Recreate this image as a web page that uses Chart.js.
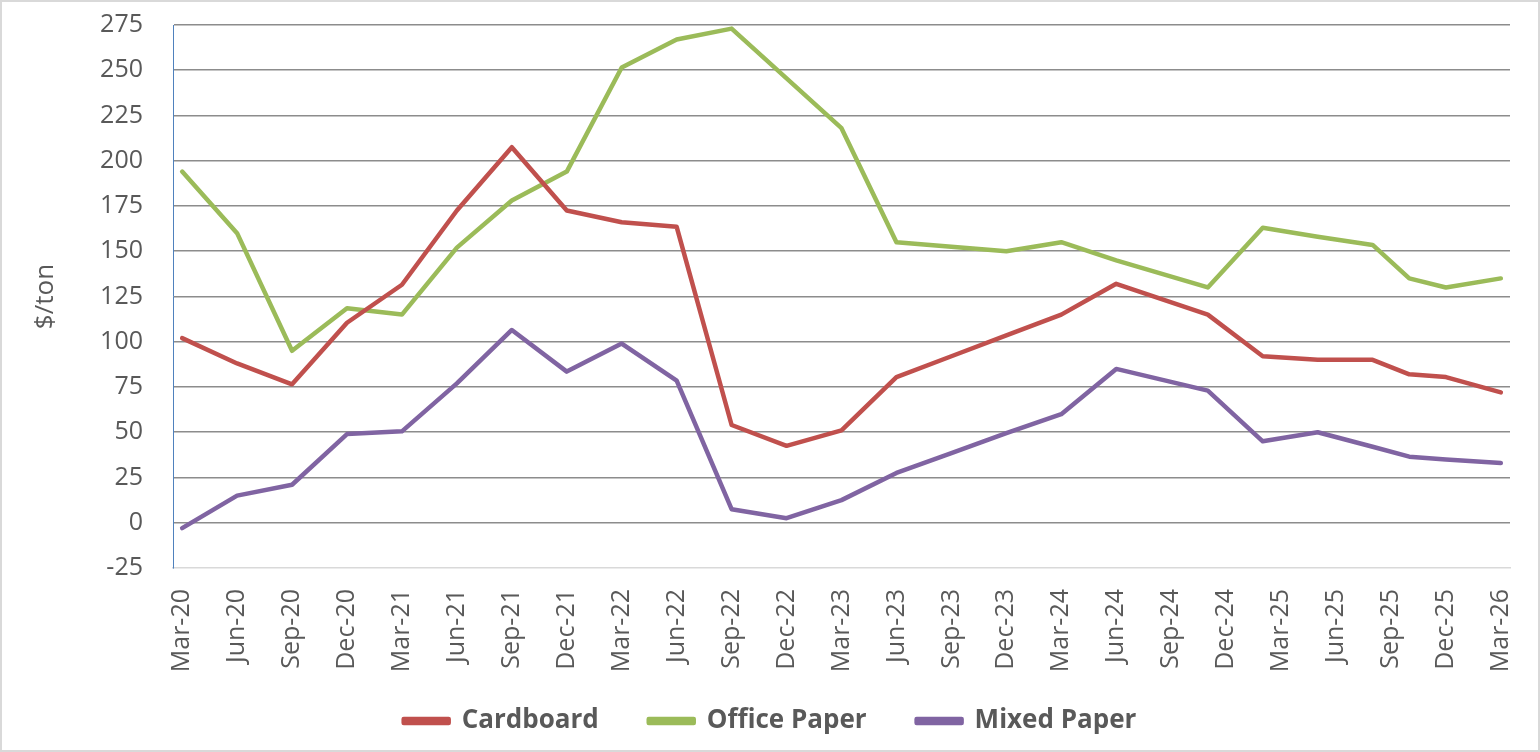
<!DOCTYPE html>
<html>
<head>
<meta charset="utf-8">
<title>Recycled paper prices</title>
<script src="https://cdn.jsdelivr.net/npm/chart.js@4"></script>
<style>
    html, body { margin: 0; padding: 0; background: #fff; }
    #wrap { position: relative; width: 1540px; height: 752px; }
</style>
</head>
<body>
<div id="wrap"><canvas id="priceChart"></canvas></div>
<script>
// Observation dates (year-month); the axis is a monthly date axis
const dates = [
    '2020-03', '2020-06', '2020-09', '2020-12',
    '2021-03', '2021-06', '2021-09', '2021-12',
    '2022-03', '2022-06', '2022-09', '2022-12',
    '2023-03', '2023-06', '2023-09', '2023-12',
    '2024-03', '2024-06', '2024-11',
    '2025-02', '2025-05', '2025-08', '2025-10', '2025-12',
    '2026-03'
];

// $/ton
const cardboard = [102, 88, 76.5, 110.5, 131.5, 172.5, 207.5, 172.5, 166, 163.5, 54, 42.5, 51, 80.5, 92, 103.5, 115, 132, 115, 92, 90, 90, 82, 80.5, 72];
const officePaper = [194, 160, 95, 118.5, 115, 152, 178, 194, 251.5, 267, 273, 245.5, 218, 155, 152.5, 150, 155, 145, 130, 163, 158, 153.5, 135, 130, 135];
const mixedPaper = [-3, 15, 21, 49, 50.5, 77, 106.5, 83.5, 99, 78.5, 7.5, 2.5, 12.5, 27.5, 38.5, 49.5, 60, 85, 73, 45, 50, 42, 36.5, 35, 33];

// quarterly tick labels along the x axis
const tickLabels = [
    'Mar-20', 'Jun-20', 'Sep-20', 'Dec-20',
    'Mar-21', 'Jun-21', 'Sep-21', 'Dec-21',
    'Mar-22', 'Jun-22', 'Sep-22', 'Dec-22',
    'Mar-23', 'Jun-23', 'Sep-23', 'Dec-23',
    'Mar-24', 'Jun-24', 'Sep-24', 'Dec-24',
    'Mar-25', 'Jun-25', 'Sep-25', 'Dec-25',
    'Mar-26'
];

const yTicks = [-25, 0, 25, 50, 75, 100, 125, 150, 175, 200, 225, 250, 275];

const TEXT = '#595959';
const FONT = '"Open Sans", "Noto Sans", sans-serif';

const LEGEND_GAP = 50;   // space between legend entries
const LEGEND_PAD = 12;   // vertical padding the legend should really use

/**
 * Months elapsed since the first date
 */
function monthOffset(ym) {
    const [y0, m0] = dates[0].split('-').map(Number);
    const [y, m] = ym.split('-').map(Number);
    return (y - y0) * 12 + (m - m0);
}

function toPoints(values) {
    return values.map((v, i) => ({ x: monthOffset(dates[i]), y: v }));
}

// thin grey frame round the whole picture
const framePlugin = {
    id: 'frame',
    afterDraw(chart) {
        const ctx = chart.ctx;
        ctx.save();
        ctx.strokeStyle = '#d9d9d9';
        ctx.lineWidth = 2;
        ctx.strokeRect(1, 1, chart.width - 2, chart.height - 2);
        ctx.restore();
    }
};

// Chart.js uses labels.padding both between entries and above/below them;
// keep the wide gap between entries but only a small vertical padding
const legendSpread = {
    id: 'legendSpread',
    beforeLayout(chart) {
        const lg = chart.legend;
        if (!lg || lg._spread) return;
        lg._spread = true;
        const extra = LEGEND_GAP - LEGEND_PAD;
        const fit = lg.fit;
        lg.fit = function () {
            fit.call(this);
            this.height -= extra;
        };
        const draw = lg._draw;
        lg._draw = function () {
            this.top -= extra;
            draw.call(this);
            this.top += extra;
        };
    }
};

function makeDataset(label, values, color) {
    return {
        label: label,
        data: toPoints(values),
        borderColor: color,
        backgroundColor: color,
        borderWidth: 4.5,
        pointRadius: 0,
        tension: 0,
        borderCapStyle: 'round',
        borderJoinStyle: 'round',
    };
}

new Chart(document.getElementById('priceChart'), {
    type: 'line',
    data: {
        datasets: [
            makeDataset('Cardboard', cardboard, '#C0504D'),
            makeDataset('Office Paper', officePaper, '#9BBB59'),
            makeDataset('Mixed Paper', mixedPaper, '#8064A2'),
        ],
    },
    options: {
        responsive: true,
        maintainAspectRatio: false,
        animation: false,
        layout: {
            padding: { top: 25, right: 30, bottom: 8, left: 30 },
        },
        plugins: {
            legend: {
                position: 'bottom',
                labels: {
                    color: TEXT,
                    font: { family: FONT, size: 26, weight: 'bold' },
                    boxWidth: 45,
                    boxHeight: 4,
                    padding: LEGEND_GAP,
                },
            },
            tooltip: { enabled: false },
        },
        scales: {
            x: {
                type: 'linear',
                min: -0.5,
                max: monthOffset(dates[dates.length - 1]) + 0.5,
                afterBuildTicks: (axis) => {
                    axis.ticks = tickLabels.map((_, i) => ({ value: i * 3 }));
                },
                afterFit: (axis) => {
                    axis.height = 128;
                    axis.paddingLeft = 0;
                    axis.paddingRight = 0;
                },
                grid: { display: false, drawTicks: false },
                border: { color: '#d9d9d9', width: 1.5 },
                ticks: {
                    autoSkip: false,
                    minRotation: 90,
                    maxRotation: 90,
                    padding: 21,
                    color: TEXT,
                    font: { family: FONT, size: 25 },
                    callback: (value) => tickLabels[Math.round(value / 3)],
                },
            },
            y: {
                min: yTicks[0],
                max: yTicks[yTicks.length - 1],
                afterBuildTicks: (axis) => {
                    axis.ticks = yTicks.map(v => ({ value: v }));
                },
                afterFit: (axis) => {
                    axis.width = 173 - 30;
                    axis.paddingTop = 0;
                    axis.paddingBottom = 0;
                },
                grid: {
                    drawTicks: false,
                    color: (c) => (c.tick && c.tick.value === yTicks[0]) ? 'rgba(0,0,0,0)' : '#8c8c8c',
                    lineWidth: 1.6,
                },
                border: { color: '#4F81BD', width: 1 },
                ticks: {
                    padding: 30,
                    color: TEXT,
                    font: { family: FONT, size: 25 },
                },
                title: {
                    display: true,
                    text: '$/ton',
                    color: TEXT,
                    font: { family: FONT, size: 26 },
                    padding: { top: 0, bottom: 0 },
                },
            },
        },
    },
    plugins: [framePlugin, legendSpread],
});
</script>
</body>
</html>
